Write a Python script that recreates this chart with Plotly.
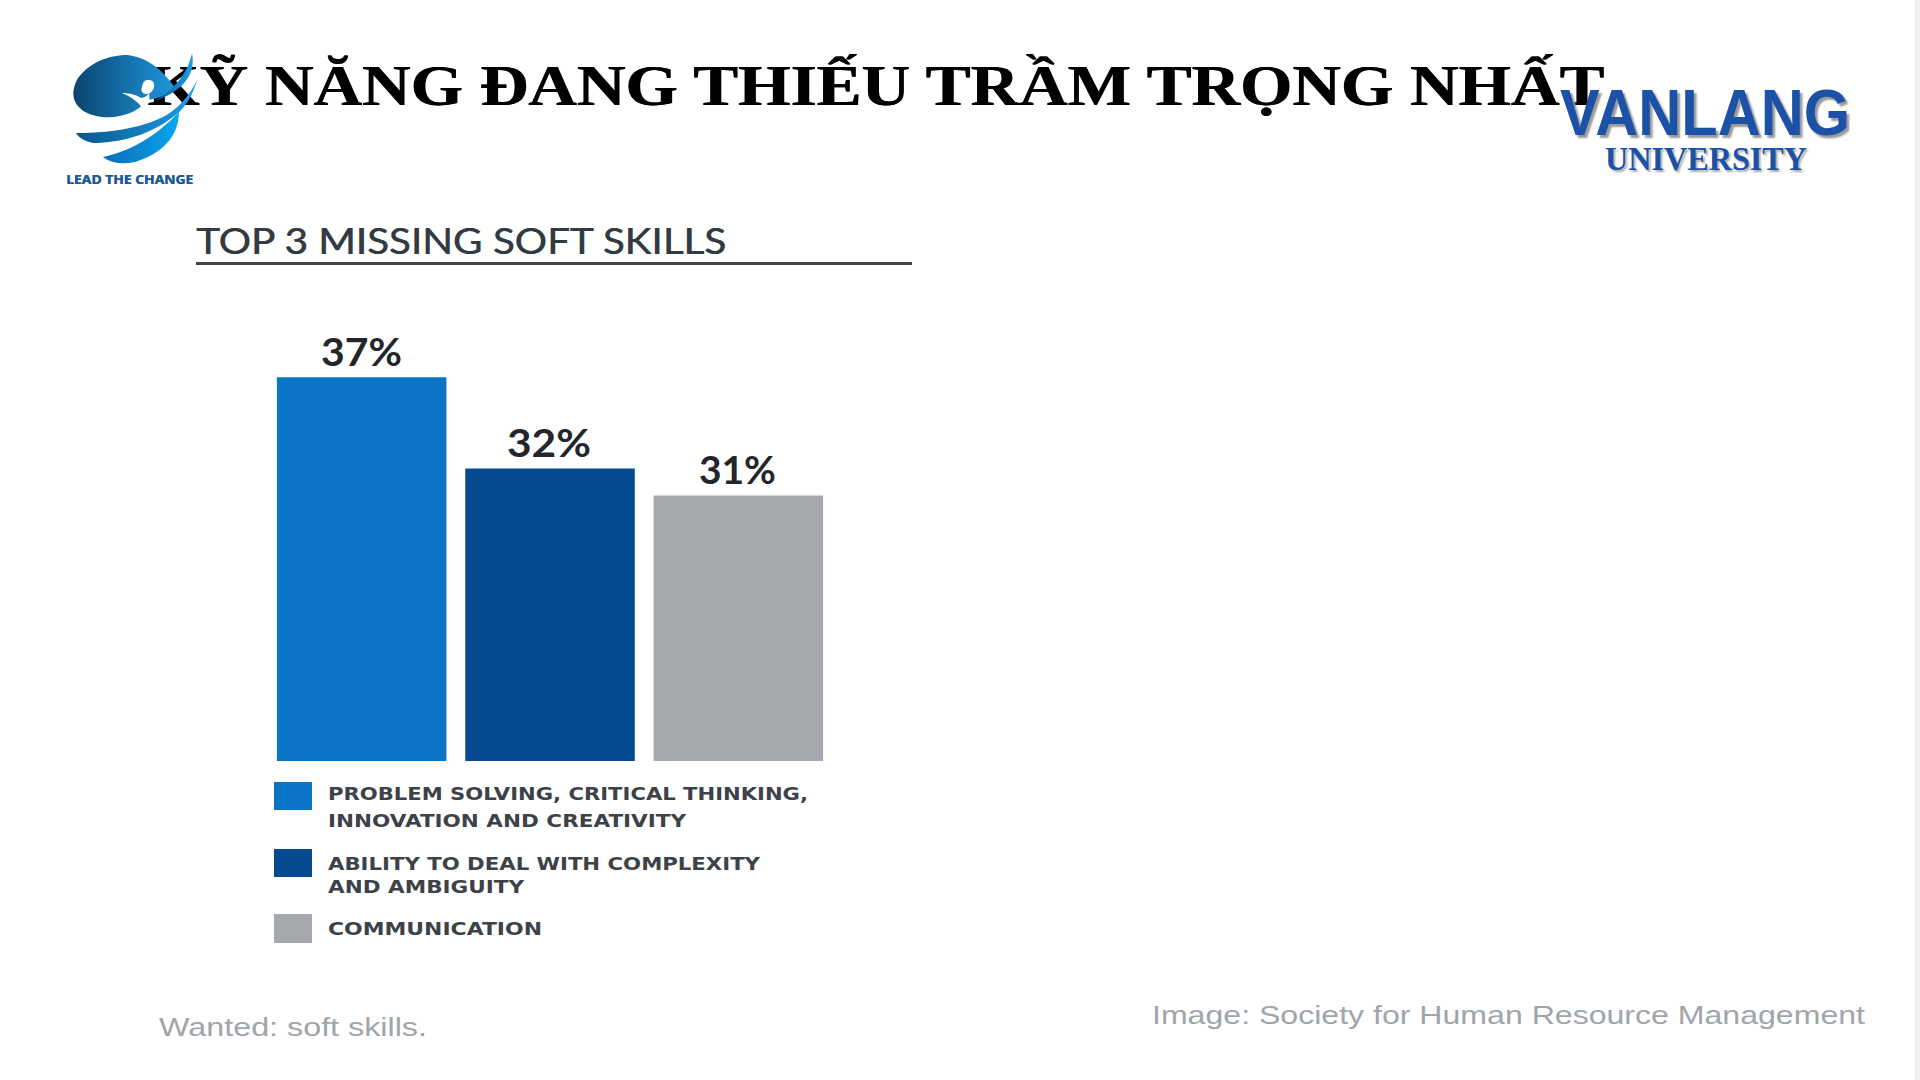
import json
import plotly.graph_objects as go

categories = ["PROBLEM SOLVING, CRITICAL THINKING,<br>INNOVATION AND CREATIVITY",
              "ABILITY TO DEAL WITH COMPLEXITY<br>AND AMBIGUITY",
              "COMMUNICATION"]
# Bar heights as drawn in the picture (the source graphic is not to scale with its labels)
bar_heights = [37.0, 28.2, 25.6]
value_labels = ["37%", "32%", "31%"]
bar_colors = ["#0a75c6", "#054a91", "#a5a8ac"]
title_text = "KỸ NĂNG ĐANG THIẾU TRẦM TRỌNG NHẤT"

W, H = 1920, 1080
fig = go.Figure()
fig.add_trace(go.Bar(x=[0, 1, 2], y=bar_heights, marker=dict(color=bar_colors, line_width=0),
                     text=value_labels, textposition="outside", cliponaxis=False,
                     textfont=dict(family="Lato", size=38, color="#22262a", weight="bold"), hoverinfo="skip"))

# page title goes under the logo, as a text trace in the page-pixel subplot
fig.add_trace(go.Scatter(x=[147], y=[90], xaxis="x2", yaxis="y2", mode="text", text=[title_text],
                         textposition="middle right", cliponaxis=False, hoverinfo="skip",
                         textfont=dict(family="Liberation Serif", size=58, color="#000000", weight="bold",
                                       shadow="0.7px 0 0 #000000")))

def bez(p0, p1, p2, n=24):
    return [((1-t)**2*p0[0]+2*t*(1-t)*p1[0]+t*t*p2[0],
             (1-t)**2*p0[1]+2*t*(1-t)*p1[1]+t*t*p2[1]) for t in [i/n for i in range(n+1)]]

def blob(segs, gradient=None, solid=None):
    pts = []
    for s in segs:
        pts += bez(*s)
    kw = dict(fillcolor=solid) if solid else dict(
        fillgradient=dict(type="horizontal", colorscale=[[0, gradient[0]], [1, gradient[1]]]))
    fig.add_trace(go.Scatter(x=[p[0] for p in pts], y=[p[1] for p in pts], xaxis="x2", yaxis="y2",
                             mode="none", fill="toself", hoverinfo="skip", **kw))

# logo: head, swooshes, figure cut-out
blob([((175, 88), (155, 58), (127, 55)), ((127, 55), (95, 56), (78, 78)), ((78, 78), (66, 100), (85, 112)),
      ((85, 112), (105, 122), (130, 113)), ((130, 113), (142, 108), (146, 100)), ((146, 100), (165, 98), (175, 88))],
     ("#0a4470", "#1f97de"))
blob([((122, 93), (133, 93), (141, 98)), ((141, 98), (147, 97), (149, 93)), ((149, 93), (151, 104), (143, 112)),
      ((143, 112), (142, 102), (122, 93))], solid="#ffffff")
blob([((148, 80), (155, 80), (154, 87)), ((154, 87), (152, 94), (146, 94)), ((146, 94), (140, 93), (142, 87)),
      ((142, 87), (143, 80), (148, 80))], solid="#ffffff")
blob([((76, 133), (130, 133), (163, 117)), ((163, 117), (185, 105), (197, 80)), ((197, 80), (190, 105), (173, 117)),
      ((173, 117), (140, 142), (93, 143)), ((93, 143), (80, 140), (76, 133))], ("#0a5690", "#1c9fe6"))
blob([((103, 157), (145, 148), (179, 112)), ((179, 112), (178, 148), (135, 162)), ((135, 162), (115, 166), (103, 157))],
     ("#0c6cb4", "#08a6f0"))
blob([((192, 53), (198, 85), (155, 101)), ((155, 101), (186, 82), (192, 53))], ("#0a5690", "#1c9fe6"))

def T(text, x, y, size, color, family, anchor="left", bold=False, shadow=None):
    font = dict(size=size, color=color, family=family)
    if shadow:
        font["shadow"] = shadow
    fig.add_annotation(text=f"<b>{text}</b>" if bold else text, x=x/W, y=1-y/H, xref="paper", yref="paper",
                       xanchor=anchor, yanchor="middle", showarrow=False, font=font)

T("LEAD THE CHANGE", 66, 179, 13, "#1c5a96", "Open Sans", bold=True, shadow="0.5px 0 0 #1c5a96")
T("VANLANG", 1705, 112, 65, "#1b52a8", "Liberation Sans", "center", True, "3px 3px 2px #9a9a9a")
T("UNIVERSITY", 1706, 159, 33, "#1b52a8", "Liberation Serif", "center", True, "2px 2px 2px #aaaaaa")
T("TOP 3 MISSING SOFT SKILLS", 196, 239, 37, "#333b42", "Lato", shadow="0.5px 0 0 #333b42")
T("Wanted: soft skills.", 159, 1027, 25, "#a0a5aa", "Liberation Sans")
T("Image: Society for Human Resource Management", 1152, 1015, 25, "#a0a5aa", "Liberation Sans")

lines = [("PROBLEM SOLVING, CRITICAL THINKING,", 793), ("INNOVATION AND CREATIVITY", 820),
         ("ABILITY TO DEAL WITH COMPLEXITY", 863), ("AND AMBIGUITY", 886), ("COMMUNICATION", 928)]
for t, y in lines:
    T(t, 329, y, 18, "#3c4248", "DejaVu Sans", bold=True)

shapes = [dict(type="rect", xref="paper", yref="paper", x0=274/W, x1=312/W, y0=1-a/H, y1=1-b/H,
               fillcolor=c, line_width=0)
          for (a, b), c in zip([(782, 810), (849, 877), (914, 943)], bar_colors)]
shapes.append(dict(type="line", xref="paper", yref="paper", x0=196/W, x1=912/W, y0=1-263.5/H, y1=1-263.5/H,
                   line=dict(color="#444", width=3)))
shapes.append(dict(type="rect", xref="paper", yref="paper", x0=1915/W, x1=1, y0=0, y1=1,
                   fillcolor="#f2f2f2", line_width=0))

fig.update_layout(
    width=W, height=H, margin=dict(l=0, r=0, t=0, b=0), showlegend=False,
    paper_bgcolor="white", plot_bgcolor="rgba(0,0,0,0)", bargap=0.1, shapes=shapes,
    xaxis=dict(domain=[267.5/W, 832.5/W], range=[-0.5, 2.5], visible=False),
    yaxis=dict(domain=[1-761/H, 1-346/H], range=[0, 40], visible=False),
    xaxis2=dict(domain=[0, 1], range=[0, W], visible=False, anchor="y2"),
    yaxis2=dict(domain=[0, 1], range=[H, 0], visible=False, anchor="x2"),
)

# target extents of the stretched texts: text -> [left px, width px]
fit = {
    title_text: [147, 1457],
    "LEAD THE CHANGE": [66, 127],
    "VANLANG": [1560, 290],
    "UNIVERSITY": [1605, 202],
    "TOP 3 MISSING SOFT SKILLS": [196, 530],
    "Wanted: soft skills.": [159, 268],
    "Image: Society for Human Resource Management": [1152, 713],
    "PROBLEM SOLVING, CRITICAL THINKING,": [328, 480],
    "INNOVATION AND CREATIVITY": [328, 358],
    "ABILITY TO DEAL WITH COMPLEXITY": [328, 432],
    "AND AMBIGUITY": [328, 196],
    "COMMUNICATION": [328, 214],
    "37%": [321, 81],
    "32%": [507, 84],
    "31%": [699, 77],
}
post = """
document.body.style.margin='0';document.body.style.overflow='hidden';
var fit=%s;
document.querySelectorAll('.js-plotly-plot svg text').forEach(function(el){
  var f=fit[el.textContent]; if(!f) return;
  el.setAttribute('textLength',f[1]); el.setAttribute('lengthAdjust','spacingAndGlyphs');
  var r=el.getBoundingClientRect();
  var x0=parseFloat(el.getAttribute('x')||0);
  el.setAttribute('x',x0+(f[0]-r.left));
});
""" % json.dumps(fit, ensure_ascii=False)
fig.write_html("out.html", post_script=post, config={"displayModeBar": False})
